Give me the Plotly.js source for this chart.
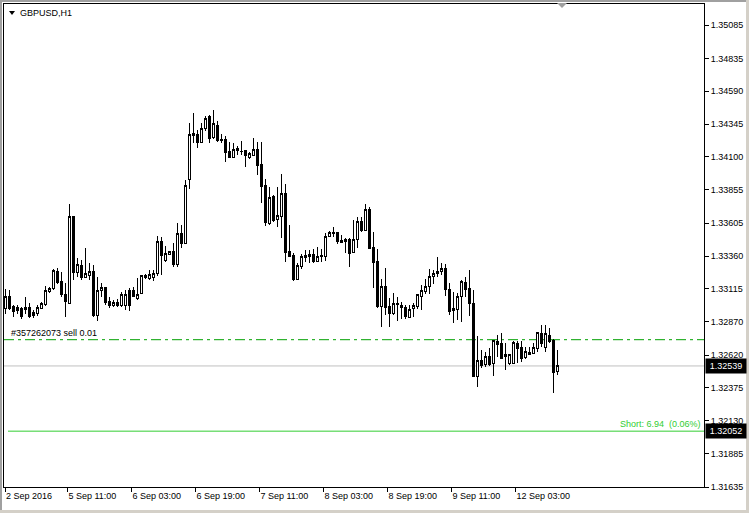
<!DOCTYPE html>
<html>
<head>
<meta charset="utf-8">
<script src="https://cdn.plot.ly/plotly-3.0.1.min.js"></script>
<style>
html,body{margin:0;padding:0;background:#fff;width:749px;height:513px;overflow:hidden;}
#chart{width:749px;height:513px;}
#chart .trace.boxes path{shape-rendering:crispEdges;}
</style>
</head>
<body>
<div id="chart"></div>
<script>
// ---- Data (GBPUSD H1, first bar = 2 Sep 2016 19:00) ----
const open = [1.32969,1.33061,1.32981,1.32977,1.32969,1.32957,1.32977,1.32937,1.32932,1.32969,
1.32999,1.33093,1.33116,1.33246,1.33166,1.33076,1.33007,1.33654,1.33238,1.33291,
1.33201,1.33211,1.33248,1.32919,1.33106,1.33123,1.33019,1.32987,1.33014,1.32994,
1.32987,1.33106,1.33099,1.33044,1.33082,1.33211,1.33194,1.33201,1.33231,1.33472,
1.33330,1.33375,1.33392,1.33300,1.33530,1.33455,1.33933,1.34276,1.34264,1.34206,
1.34314,1.34400,1.34246,1.34338,1.34231,1.34231,1.34139,1.34097,1.34161,1.34144,
1.34146,1.34097,1.34114,1.34152,1.34040,1.33883,1.33604,1.33803,1.33634,1.33654,
1.33828,1.33392,1.33367,1.33186,1.33280,1.33350,1.33375,1.33375,1.33317,1.33355,
1.33360,1.33504,1.33537,1.33537,1.33474,1.33467,1.33485,1.33385,1.33485,1.33616,
1.33554,1.33711,1.33425,1.33317,1.32981,1.33136,1.32981,1.32932,1.33002,1.32994,
1.32977,1.32902,1.32969,1.32981,1.33056,1.33093,1.33131,1.33205,1.33231,1.33243,
1.33268,1.33111,1.32966,1.32962,1.33061,1.33164,1.33114,1.33007,1.32459,1.32576,
1.32551,1.32613,1.32554,1.32725,1.32708,1.32628,1.32554,1.32559,1.32708,1.32675,
1.32604,1.32643,1.32633,1.32671,1.32783,1.32678,1.32770,1.32728,1.32496];

const high = [1.33111,1.33106,1.32994,1.32994,1.32981,1.33052,1.33007,1.32957,1.32994,1.33019,
1.33138,1.33131,1.33261,1.33268,1.33243,1.33156,1.33748,1.33656,1.33343,1.33330,
1.33418,1.33310,1.33293,1.33201,1.33156,1.33131,1.33056,1.33031,1.33037,1.33093,
1.33106,1.33119,1.33131,1.33194,1.33218,1.33226,1.33255,1.33255,1.33512,1.33504,
1.33435,1.33400,1.33455,1.33604,1.33592,1.33928,1.34355,1.34430,1.34301,1.34355,
1.34405,1.34413,1.34450,1.34370,1.34271,1.34256,1.34214,1.34206,1.34181,1.34221,
1.34152,1.34139,1.34239,1.34214,1.34214,1.33933,1.33878,1.33816,1.33878,1.33972,
1.33898,1.33592,1.33380,1.33306,1.33375,1.33405,1.33405,1.33410,1.33429,1.33410,
1.33534,1.33549,1.33579,1.33541,1.33517,1.33492,1.33492,1.33629,1.33649,1.33649,
1.33748,1.33724,1.33539,1.33410,1.33186,1.33268,1.33044,1.33082,1.33056,1.33019,
1.32994,1.32994,1.33007,1.33078,1.33144,1.33186,1.33263,1.33255,1.33350,1.33306,
1.33300,1.33156,1.33093,1.33082,1.33181,1.33205,1.33255,1.33106,1.32763,1.32658,
1.32645,1.32671,1.32733,1.32770,1.32787,1.32713,1.32628,1.32728,1.32728,1.32728,
1.32678,1.32683,1.32708,1.32795,1.32845,1.32843,1.32820,1.32738,1.32658];

const low = [1.32927,1.32957,1.32907,1.32927,1.32890,1.32927,1.32895,1.32899,1.32914,1.32962,
1.32987,1.33086,1.33106,1.33151,1.33052,1.32902,1.33002,1.33181,1.33201,1.33181,
1.33194,1.33181,1.32907,1.32877,1.33056,1.32994,1.32969,1.32981,1.32981,1.32981,
1.32957,1.32952,1.33052,1.33031,1.33076,1.33186,1.33181,1.33176,1.33211,1.33218,
1.33317,1.33367,1.33280,1.33280,1.33418,1.33450,1.33858,1.34202,1.34164,1.34202,
1.34296,1.34202,1.34231,1.34214,1.34206,1.34064,1.34090,1.34090,1.34114,1.34114,
1.34027,1.34082,1.34109,1.33965,1.33758,1.33584,1.33592,1.33612,1.33574,1.33492,
1.33317,1.33355,1.33176,1.33181,1.33263,1.33317,1.33310,1.33306,1.33313,1.33317,
1.33325,1.33500,1.33504,1.33450,1.33455,1.33385,1.33276,1.33380,1.33418,1.33541,
1.33549,1.33410,1.33119,1.32969,1.32828,1.32919,1.32828,1.32919,1.32877,1.32887,
1.32887,1.32895,1.32902,1.32962,1.32957,1.33076,1.33076,1.33151,1.33201,1.33218,
1.33061,1.32919,1.32862,1.32882,1.32869,1.33052,1.32912,1.32454,1.32384,1.32521,
1.32533,1.32539,1.32464,1.32608,1.32589,1.32509,1.32546,1.32554,1.32559,1.32571,
1.32593,1.32621,1.32628,1.32645,1.32683,1.32645,1.32713,1.32339,1.32471];

const close = [1.33056,1.32969,1.32944,1.32952,1.32907,1.32977,1.32907,1.32919,1.32977,1.33007,
1.33106,1.33116,1.33250,1.33161,1.33076,1.33024,1.33654,1.33235,1.33293,1.33201,
1.33226,1.33243,1.32919,1.33106,1.33123,1.33014,1.32987,1.33014,1.32994,1.33069,
1.33074,1.32987,1.33061,1.33076,1.33211,1.33201,1.33223,1.33226,1.33467,1.33367,
1.33380,1.33392,1.33293,1.33530,1.33455,1.33890,1.34271,1.34261,1.34206,1.34314,
1.34388,1.34239,1.34351,1.34221,1.34219,1.34131,1.34097,1.34157,1.34146,1.34139,
1.34109,1.34122,1.34152,1.34034,1.33878,1.33609,1.33798,1.33624,1.33666,1.33828,
1.33385,1.33360,1.33181,1.33288,1.33355,1.33367,1.33360,1.33317,1.33360,1.33367,
1.33509,1.33537,1.33530,1.33467,1.33459,1.33485,1.33380,1.33485,1.33616,1.33549,
1.33709,1.33418,1.33310,1.32981,1.33131,1.32977,1.32932,1.33007,1.32996,1.32977,
1.32912,1.32964,1.32987,1.33076,1.33099,1.33136,1.33205,1.33231,1.33248,1.33268,
1.33111,1.32944,1.32952,1.33061,1.33168,1.33111,1.33007,1.32459,1.32578,1.32546,
1.32613,1.32551,1.32728,1.32701,1.32596,1.32613,1.32621,1.32713,1.32671,1.32596,
1.32645,1.32628,1.32678,1.32787,1.32708,1.32778,1.32720,1.32489,1.32539];

// time-axis labels and the bar index they belong to
const timeLabels = ['2 Sep 2016','5 Sep 11:00','6 Sep 03:00','6 Sep 19:00','7 Sep 11:00','8 Sep 03:00','8 Sep 19:00','9 Sep 11:00','12 Sep 03:00'];
const timeLabelBars = [0,16,32,48,64,80,96,112,128];

// price scale labels
const priceTicks = [1.31635,1.31885,1.32130,1.32375,1.32620,1.32870,1.33115,1.33360,1.33605,1.33855,1.34100,1.34345,1.34590,1.34835,1.35085];
const priceTop = 1.35242;

// trade objects
const symbolTitle = 'GBPUSD,H1';
const orderPrice = 1.32735;
const orderLabel = '#357262073 sell 0.01';
const bidPrice = 1.32539;
const targetPrice = 1.32052;
const targetLabel = 'Short: 6.94\u00a0\u00a0(0.06%)';

// ---- layout helpers (pixel -> paper for decorations) ----
const W = 749, H = 513;
const M = {l: 4, r: 45, t: 4, b: 26};
const PW = W - M.l - M.r, PH = H - M.t - M.b;
const PX = x => (x - M.l) / PW;
const PY = y => (H - M.b - y) / PH;

const barIdx = open.map((_, i) => i);
const FONT = 'Liberation Sans, Arial, sans-serif';
const green = '#00a000';
const lgreen = '#32cd32';

const trace = {
  type: 'candlestick',
  x: barIdx, open: open, high: high, low: low, close: close,
  increasing: {line: {color: '#000', width: 1}, fillcolor: '#fff'},
  decreasing: {line: {color: '#000', width: 1}, fillcolor: '#000'},
  whiskerwidth: 0,
  hoverinfo: 'skip',
  showlegend: false
};

function tri(x0, x1, ytop, ybot) {
  const xm = (x0 + x1) / 2;
  return `M ${PX(x0)} ${PY(ytop)} L ${PX(x1)} ${PY(ytop)} L ${PX(xm)} ${PY(ybot)} Z`;
}

const layout = {
  width: W, height: H,
  autosize: false,
  margin: M,
  paper_bgcolor: '#fff', plot_bgcolor: '#fff',
  font: {family: FONT, size: 9, color: '#000'},
  showlegend: false,
  boxgap: 0.5, boxgroupgap: 0,
  title: {
    text: symbolTitle,
    font: {family: FONT, size: 9, color: '#000'},
    x: 20 / W, xref: 'container', xanchor: 'left',
    y: 1 - 13 / H, yref: 'container', yanchor: 'middle'
  },
  xaxis: {
    range: [-0.25, 174.75],
    showgrid: false, zeroline: false,
    showline: true, mirror: true, linecolor: '#000', linewidth: 1,
    ticks: 'outside', ticklen: 4, tickcolor: '#000', tickwidth: 1,
    tickvals: timeLabelBars.map(b => b === 0 ? b : b - 0.4),
    ticktext: timeLabels,
    ticklabelposition: 'outside right',
    tickfont: {family: FONT, size: 9, color: '#000'},
    rangeslider: {visible: false},
    fixedrange: true
  },
  yaxis: {
    side: 'right',
    range: [priceTicks[0], priceTop],
    showgrid: false, zeroline: false,
    showline: true, mirror: true, linecolor: '#000', linewidth: 1,
    ticks: 'outside', ticklen: 4, tickcolor: '#000', tickwidth: 1,
    tickvals: priceTicks,
    ticktext: priceTicks.map(v => v.toFixed(5)),
    tickfont: {family: FONT, size: 9, color: '#000'},
    fixedrange: true
  },
  shapes: [
    {type: 'line', xref: 'paper', yref: 'y', x0: 0, x1: 1, y0: orderPrice, y1: orderPrice,
     line: {color: green, width: 1, dash: '10px,4px,3px,4px'}, layer: 'below'},
    {type: 'line', xref: 'paper', yref: 'y', x0: 0, x1: 1, y0: bidPrice, y1: bidPrice,
     line: {color: '#c0c0c0', width: 1}, layer: 'below'},
    {type: 'line', xref: 'paper', yref: 'y', x0: PX(8), x1: 1, y0: targetPrice, y1: targetPrice,
     line: {color: lgreen, width: 1}, layer: 'below'},
    {type: 'path', xref: 'paper', yref: 'paper', path: tri(9, 15, 11, 15),
     fillcolor: '#000', line: {width: 0}},
    {type: 'path', xref: 'paper', yref: 'paper', path: tri(557, 567, 3, 8),
     fillcolor: '#a0a0a0', line: {width: 0}},
    {type: 'rect', xref: 'paper', yref: 'paper', x0: PX(0), x1: PX(2), y0: PY(513), y1: PY(0),
     fillcolor: '#a0a0a0', line: {width: 0}},
    {type: 'rect', xref: 'paper', yref: 'paper', x0: PX(0), x1: PX(749), y0: PY(2), y1: PY(0),
     fillcolor: '#a0a0a0', line: {width: 0}},
    {type: 'rect', xref: 'paper', yref: 'paper', x0: PX(746), x1: PX(749), y0: PY(513), y1: PY(0),
     fillcolor: '#d4d0c8', line: {width: 0}},
    {type: 'rect', xref: 'paper', yref: 'paper', x0: PX(0), x1: PX(749), y0: PY(513), y1: PY(510),
     fillcolor: '#d4d0c8', line: {width: 0}}
  ],
  annotations: [
    {text: orderLabel, xref: 'paper', yref: 'y', x: PX(10), y: orderPrice,
     xanchor: 'left', yanchor: 'bottom', showarrow: false, borderpad: 0, yshift: 1,
     font: {family: FONT, size: 9, color: '#000'}},
    {text: targetLabel, xref: 'paper', yref: 'y', x: PX(702), y: targetPrice,
     xanchor: 'right', yanchor: 'bottom', showarrow: false, borderpad: 0, yshift: 1,
     font: {family: FONT, size: 9, color: lgreen}},
    {text: bidPrice.toFixed(5), xref: 'paper', yref: 'y', x: 1, y: bidPrice,
     xanchor: 'left', yanchor: 'middle', showarrow: false, xshift: 1,
     bgcolor: '#000', borderpad: 2, width: 36, align: 'center',
     font: {family: FONT, size: 9, color: '#fff'}},
    {text: targetPrice.toFixed(5), xref: 'paper', yref: 'y', x: 1, y: targetPrice,
     xanchor: 'left', yanchor: 'middle', showarrow: false, xshift: 1,
     bgcolor: '#000', borderpad: 2, width: 36, align: 'center',
     font: {family: FONT, size: 9, color: '#fff'}}
  ]
};

Plotly.newPlot('chart', [trace], layout, {displayModeBar: false, staticPlot: true});
</script>
</body>
</html>
